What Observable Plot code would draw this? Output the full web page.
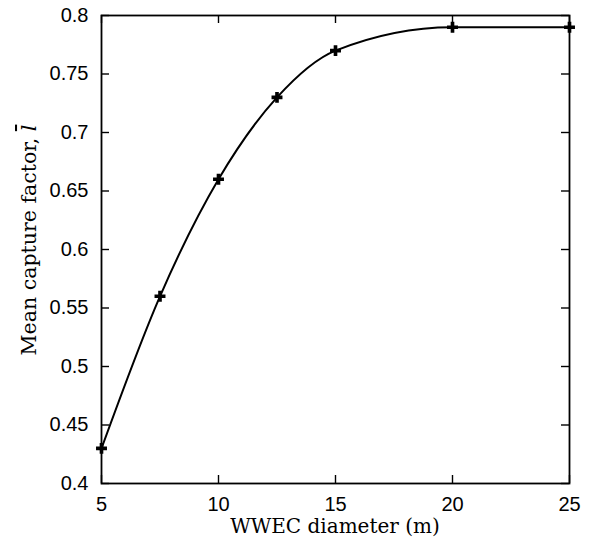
<!DOCTYPE html>
<html><head><meta charset="utf-8">
<script src="https://cdn.jsdelivr.net/npm/d3@7"></script>
<script src="https://cdn.jsdelivr.net/npm/@observablehq/plot@0.6"></script>
<style>body{margin:0;background:#fff}</style>
</head><body><div id="chart"></div>
<script>
const diameters = [5, 7.5, 10, 12.5, 15, 20, 25];
const captureFactor = [0.43, 0.56, 0.66, 0.73, 0.77, 0.79, 0.79];
const xTicks = [5, 10, 15, 20, 25];
const yTicks = [0.4, 0.45, 0.5, 0.55, 0.6, 0.65, 0.7, 0.75, 0.8];
const yTickLabels = ["0.4", "0.45", "0.5", "0.55", "0.6", "0.65", "0.7", "0.75", "0.8"];
const xLabel = "WWEC diameter (m)";
const yLabel = "Mean capture factor, ";
const yLabelSymbol = "l";

const data = diameters.map((d, i) => ({x: d, y: captureFactor[i]}));

const W = 594, H = 546, mL = 101, mR = 25, mT = 15, mB = 63;
const innerW = W - mL - mR, innerH = H - mT - mB, tick = 8;

const chart = Plot.plot({
  width: W, height: H,
  marginLeft: mL, marginRight: mR, marginTop: mT, marginBottom: mB,
  style: {fontFamily: "'Liberation Sans', Arial, sans-serif", fontSize: "20px", color: "#000", background: "#fff"},
  x: {domain: [5, 25]},
  y: {domain: [0.4, 0.8]},
  marks: [
    Plot.axisX({ticks: xTicks, tickSize: 0, tickPadding: 13, label: null, tickFormat: d => String(d), fontSize: 20}),
    Plot.axisY({ticks: yTicks, tickSize: 0, tickPadding: 13, label: null, tickFormat: d => yTickLabels[yTicks.indexOf(d)], fontSize: 20}),
    Plot.tickX(xTicks, {x: d => d, insetTop: innerH - tick, stroke: "#000", strokeWidth: 1.4}),
    Plot.tickX(xTicks, {x: d => d, insetBottom: innerH - tick, stroke: "#000", strokeWidth: 1.4}),
    Plot.tickY(yTicks, {y: d => d, insetRight: innerW - tick, stroke: "#000", strokeWidth: 1.4}),
    Plot.tickY(yTicks, {y: d => d, insetLeft: innerW - tick, stroke: "#000", strokeWidth: 1.4}),
    Plot.frame({stroke: "#000", strokeWidth: 1.8}),
    Plot.line(data, {x: "x", y: "y", curve: "monotone-x", stroke: "#000", strokeWidth: 2}),
    Plot.dot(data, {x: "x", y: "y", symbol: "cross", r: 4.6, fill: "#000", stroke: "none"})
  ]
});

const svg = d3.select(chart);
svg.selectAll('g[aria-label$="tick label"]')
  .attr("font-size", 20)
  .style("font-size", "20px")
  .style("font-family", "'Liberation Sans', Arial, sans-serif");
svg.append("text")
  .attr("x", mL + innerW / 2).attr("y", 533)
  .attr("text-anchor", "middle")
  .attr("font-family", "'DejaVu Serif', 'Liberation Serif', serif")
  .attr("font-size", 20)
  .attr("fill", "#000")
  .text(xLabel);
const yt = svg.append("text")
  .attr("transform", `translate(36,${240}) rotate(-90)`)
  .attr("text-anchor", "middle")
  .attr("font-family", "'DejaVu Serif', 'Liberation Serif', serif")
  .attr("font-size", 20.5)
  .attr("fill", "#000");
yt.append("tspan").text(yLabel);
yt.append("tspan").attr("font-style", "italic").attr("text-decoration", "overline").text(yLabelSymbol);

document.getElementById("chart").appendChild(chart);
</script>
</body></html>
